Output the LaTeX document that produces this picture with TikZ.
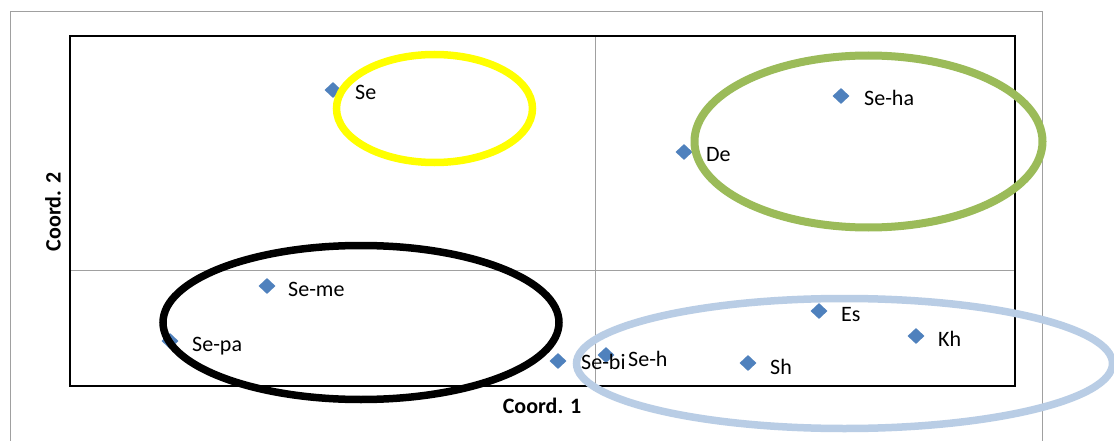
\documentclass[tikz,border=0pt]{standalone}
\usepackage{fontspec}
\setmainfont{Carlito}
\usetikzlibrary{shapes.geometric}
\definecolor{mk}{HTML}{4F81BD}
\definecolor{grn}{HTML}{9BBB59}
\definecolor{lblue}{HTML}{B9CDE5}
\definecolor{frm}{HTML}{A0A0A0}
\definecolor{yel}{HTML}{FFFF00}
\begin{document}
\begin{tikzpicture}[x=1pt,y=-1pt,
  pt/.style={diamond, fill=mk, inner sep=0pt, minimum width=17pt, minimum height=16pt},
  lbl/.style={anchor=base west, inner sep=0pt, font=\fontsize{22}{26}\selectfont},
  axl/.style={inner sep=0pt, font=\bfseries\fontsize{22}{26}\selectfont},
  ring/.style={line width=7.5pt}]
\clip (0,0) rectangle (1114,441);
\fill[white] (0,0) rectangle (1114,441);
% frame and plot area
\draw[frm, line width=1pt] (10,12) rectangle (1042,470);
\draw[frm, line width=1pt] (595,36) -- (595,386);
\draw[frm, line width=1pt] (70,270) -- (1015,270);
\draw[black, line width=1.2pt] (70,36) rectangle (1015,386);
% points
\node[pt] (se)   at (333,90)  {};
\node[pt] (seme) at (267,286) {};
\node[pt] (sepa) at (170,341) {};
\node[pt] (de)   at (684,152) {};
\node[pt] (seha) at (841,96)  {};
\node[pt] (es)   at (819,311) {};
\node[pt] (kh)   at (916,336) {};
\node[pt] (sebi) at (558,361) {};
\node[pt] (seh)  at (606,355) {};
\node[pt] (sh)   at (748,363) {};
% group ellipses
\draw[yel, ring]   (434.5,108.5) ellipse [x radius=98,  y radius=54];
\draw[black, ring] (361,322.5) ellipse [x radius=198, y radius=77];
\draw[grn, line width=8pt] (868.5,141.5) ellipse [x radius=174, y radius=86];
\draw[lblue, ring] (844.5,363.5) ellipse [x radius=268, y radius=65];
% labels
\node[lbl] (sel)    at ([shift={(22,9.5)}]se.center)   {Se};
\node[lbl] (semel)  at ([shift={(21,10)}]seme.center)  {Se-me};
\node[lbl] (sepal)  at ([shift={(22,10)}]sepa.center)  {Se-pa};
\node[lbl] (del)    at ([shift={(22,10)}]de.center)    {De};
\node[lbl] (sehal)  at ([shift={(23,9.5)}]seha.center) {Se-ha};
\node[lbl] (esl)    at ([shift={(22,10)}]es.center)    {Es};
\node[lbl] (khl)    at ([shift={(22,10)}]kh.center)    {Kh};
\node[lbl] (sebil)  at ([shift={(23,8.5)}]sebi.center) {Se-bi};
\node[lbl] (sehl)   at ([shift={(22,11)}]seh.center)   {Se-h};
\node[lbl] (shl)    at ([shift={(22,11)}]sh.center)    {Sh};
% axis titles
\node[axl, rotate=90] (ax2) at (53,212) {Coord. 2};
\node[axl] (ax1) at (542,406) {Coord. 1};
\end{tikzpicture}
\end{document}
